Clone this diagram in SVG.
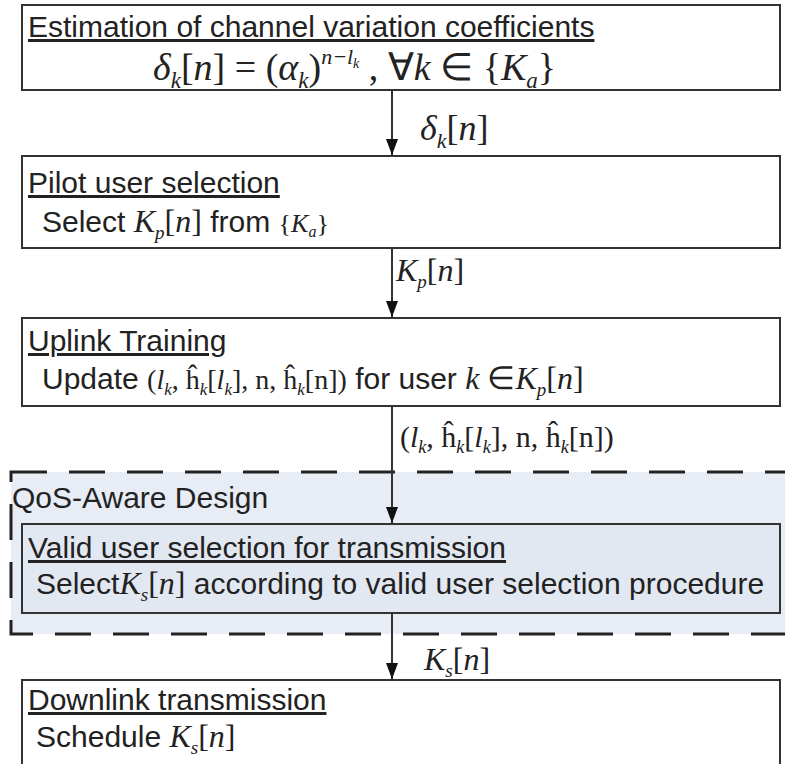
<svg xmlns="http://www.w3.org/2000/svg" width="785" height="764" viewBox="0 0 785 764">
  <style>
    .box { fill: #ffffff; stroke: #333333; stroke-width: 2; }
    .qbox { fill: #e2e8f2; stroke: #333333; stroke-width: 2; }
    .dash { fill: #e7ecf5; stroke: #222222; stroke-width: 3; stroke-dasharray: 36 22; }
    .t { font-family: "Liberation Sans", Arial, sans-serif; font-size: 30px; fill: #222222; }
    .u { text-decoration: underline; }
    .m { font-family: "Liberation Serif", "Times New Roman", serif; font-style: italic; fill: #222222; }
    .r { font-style: normal; }
    .conn { stroke: #333333; stroke-width: 2; fill: none; marker-end: url(#arr); }
  </style>
  <defs>
    <marker id="arr" viewBox="0 0 16 12" refX="16" refY="6" markerWidth="16" markerHeight="12" markerUnits="userSpaceOnUse" orient="auto">
      <path d="M0,0 L16,6 L0,12 Z" fill="#111111"/>
    </marker>
  </defs>
  <rect width="785" height="764" fill="#ffffff"/>

  <!-- QoS-Aware Design region -->
  <g id="qos-region">
    <rect class="dash" x="11" y="472" width="800" height="162"/>
    <text class="t" x="12" y="508">QoS-Aware Design</text>
  </g>

  <g id="node-estimation">
    <rect class="box" x="22" y="5" width="758" height="85"/>
    <text class="t u" x="28" y="37">Estimation of channel variation coefficients</text>
    <text class="m" x="153" y="80" font-size="38">δ<tspan font-size="23" dy="8">k</tspan><tspan class="r" dy="-8">[</tspan>n<tspan class="r">] = (</tspan>α<tspan font-size="23" dy="8">k</tspan><tspan class="r" dy="-8">)</tspan><tspan font-size="22" dy="-16">n−l</tspan><tspan font-size="14" dy="4">k</tspan><tspan class="r" dy="12"> , ∀</tspan>k<tspan class="r"> ∈ {</tspan>K<tspan font-size="23" dy="8">a</tspan><tspan class="r" dy="-8">}</tspan></text>
  </g>

  <g id="node-pilot">
    <rect class="box" x="22" y="156" width="758" height="92"/>
    <text class="t u" x="28" y="193">Pilot user selection</text>
    <text class="t" x="42" y="232">Select <tspan class="m" font-size="32">K<tspan font-size="19" dy="7">p</tspan><tspan class="r" dy="-7">[</tspan>n<tspan class="r">]</tspan></tspan> from <tspan class="m r" font-size="26">{</tspan><tspan class="m" font-size="26">K<tspan font-size="16" dy="5">a</tspan></tspan><tspan class="m r" font-size="26" dy="-5">}</tspan></text>
  </g>

  <g id="node-uplink">
    <rect class="box" x="22" y="318" width="758" height="88"/>
    <text class="t u" x="28" y="351">Uplink Training</text>
    <text class="t" x="42" y="389">Update <tspan class="m r" font-size="28">(<tspan class="m">l</tspan><tspan class="m" font-size="17" dy="6">k</tspan><tspan dy="-6">, ĥ</tspan><tspan class="m" font-size="17" dy="6">k</tspan><tspan dy="-6">[</tspan><tspan class="m">l</tspan><tspan class="m" font-size="17" dy="6">k</tspan><tspan dy="-6">], n, ĥ</tspan><tspan class="m" font-size="17" dy="6">k</tspan><tspan dy="-6">[n])</tspan></tspan> for user <tspan class="m" font-size="32">k<tspan class="r"> ∈</tspan>K<tspan font-size="19" dy="7">p</tspan><tspan class="r" dy="-7">[</tspan>n<tspan class="r">]</tspan></tspan></text>
  </g>

  <g id="node-valid">
    <rect class="qbox" x="22" y="524" width="758" height="89"/>
    <text class="t u" x="28" y="558">Valid user selection for transmission</text>
    <text class="t" x="36" y="594">Select<tspan class="m" font-size="32">K<tspan font-size="19" dy="7">s</tspan><tspan class="r" dy="-7">[</tspan>n<tspan class="r">]</tspan></tspan> according to valid user selection procedure</text>
  </g>

  <g id="node-downlink">
    <rect class="box" x="22" y="680" width="758" height="110"/>
    <text class="t u" x="28" y="710">Downlink transmission</text>
    <text class="t" x="36" y="747">Schedule <tspan class="m" font-size="32">K<tspan font-size="19" dy="7">s</tspan><tspan class="r" dy="-7">[</tspan>n<tspan class="r">]</tspan></tspan></text>
  </g>

  <g id="connectors">
    <line class="conn" x1="392" y1="90" x2="392" y2="155"/>
    <line class="conn" x1="392" y1="248" x2="392" y2="317"/>
    <line class="conn" x1="392" y1="406" x2="392" y2="523"/>
    <line class="conn" x1="392" y1="613" x2="392" y2="679"/>
    <text class="m" x="420" y="140" font-size="36">δ<tspan font-size="22" dy="8">k</tspan><tspan class="r" dy="-8">[</tspan>n<tspan class="r">]</tspan></text>
    <text class="m" x="396" y="281" font-size="32">K<tspan font-size="19" dy="7">p</tspan><tspan class="r" dy="-7">[</tspan>n<tspan class="r">]</tspan></text>
    <text class="m r" x="400" y="447" font-size="30">(<tspan class="m">l</tspan><tspan class="m" font-size="18" dy="6">k</tspan><tspan dy="-6">, ĥ</tspan><tspan class="m" font-size="18" dy="6">k</tspan><tspan dy="-6">[</tspan><tspan class="m">l</tspan><tspan class="m" font-size="18" dy="6">k</tspan><tspan dy="-6">], n, ĥ</tspan><tspan class="m" font-size="18" dy="6">k</tspan><tspan dy="-6">[n])</tspan></text>
    <text class="m" x="424" y="670" font-size="32">K<tspan font-size="19" dy="7">s</tspan><tspan class="r" dy="-7">[</tspan>n<tspan class="r">]</tspan></text>
  </g>
</svg>
